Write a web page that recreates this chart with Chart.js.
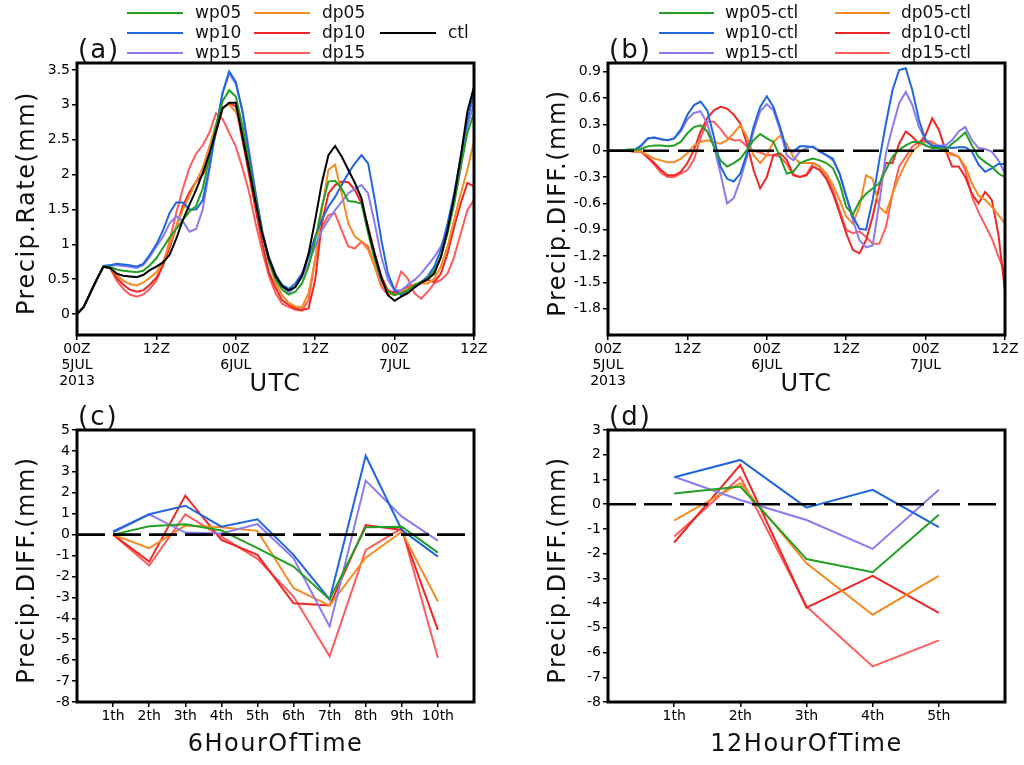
<!DOCTYPE html>
<html>
<head>
<meta charset="utf-8">
<title>Precip rate and differences</title>
<script src="https://cdn.jsdelivr.net/npm/chart.js@4.4.1/dist/chart.umd.min.js"></script>
<style>
  html, body { margin: 0; padding: 0; background: #fff; }
  body { width: 1024px; height: 765px; position: relative; overflow: hidden; }
  canvas { position: absolute; }
</style>
</head>
<body>
<canvas id="pa" width="512" height="400" style="left:0;top:0"></canvas>
<canvas id="pb" width="512" height="400" style="left:512px;top:0"></canvas>
<canvas id="pc" width="512" height="365" style="left:0;top:400px"></canvas>
<canvas id="pd" width="512" height="365" style="left:512px;top:400px"></canvas>
<script>
// hourly values, 00Z 5JUL 2013 .. 12Z 7JUL (61 hours)
const ctl  = [0.0,0.1,0.3,0.5,0.68,0.66,0.58,0.55,0.54,0.53, 0.56,0.63,0.68,0.74,0.85,1.08,1.35,1.57,1.78,2.02, 2.3,2.62,2.95,3.03,3.03,2.55,2.08,1.6,1.15,0.8, 0.55,0.4,0.34,0.39,0.54,0.87,1.35,1.88,2.28,2.41, 2.26,2.07,1.88,1.66,1.22,0.85,0.52,0.27,0.19,0.25, 0.3,0.38,0.45,0.5,0.58,0.82,1.2,1.68,2.26,2.9,3.26];
const wp05 = [0.0,0.1,0.3,0.5,0.68,0.68,0.64,0.62,0.61,0.6, 0.62,0.7,0.8,0.95,1.1,1.22,1.35,1.47,1.55,1.8, 2.25,2.7,3.05,3.21,3.12,2.7,2.18,1.65,1.15,0.75, 0.5,0.35,0.28,0.32,0.44,0.68,1.06,1.54,1.9,1.91, 1.8,1.62,1.61,1.58,1.16,0.78,0.49,0.32,0.27,0.3, 0.34,0.42,0.46,0.51,0.63,0.82,1.16,1.59,2.11,2.6,2.88];
const wp10 = [0.0,0.1,0.3,0.5,0.69,0.7,0.72,0.71,0.7,0.68, 0.72,0.85,1.0,1.2,1.45,1.6,1.6,1.5,1.5,1.63, 2.1,2.65,3.17,3.48,3.33,2.9,2.3,1.72,1.18,0.8, 0.56,0.42,0.36,0.44,0.58,0.82,1.11,1.35,1.54,1.68, 1.85,2.02,2.16,2.28,2.16,1.64,1.06,0.58,0.34,0.27, 0.32,0.39,0.46,0.54,0.68,0.92,1.3,1.73,2.26,2.78,3.17];
const wp15 = [0.0,0.1,0.3,0.5,0.69,0.7,0.7,0.69,0.68,0.66, 0.7,0.82,0.97,1.11,1.3,1.4,1.33,1.18,1.22,1.5, 2.07,2.64,3.17,3.45,3.3,2.93,2.35,1.73,1.2,0.82, 0.58,0.4,0.3,0.39,0.54,0.73,0.97,1.2,1.35,1.49, 1.61,1.73,1.8,1.85,1.73,1.3,0.82,0.49,0.34,0.34, 0.42,0.49,0.58,0.7,0.82,0.97,1.2,1.59,2.11,2.69,3.02];
const dp05 = [0.0,0.1,0.3,0.5,0.68,0.66,0.56,0.48,0.43,0.41, 0.45,0.52,0.6,0.75,1.0,1.25,1.5,1.7,1.9,2.1, 2.4,2.72,2.97,3.0,2.9,2.6,2.15,1.65,1.15,0.75, 0.45,0.27,0.16,0.11,0.1,0.3,0.78,1.49,2.07,2.14, 1.73,1.3,1.11,1.04,0.92,0.68,0.44,0.3,0.27,0.32, 0.37,0.42,0.44,0.44,0.51,0.68,0.97,1.35,1.73,2.07,2.48];
const dp10 = [0.0,0.1,0.3,0.5,0.68,0.66,0.52,0.42,0.35,0.32, 0.34,0.42,0.52,0.7,0.95,1.25,1.55,1.75,1.9,2.0, 2.2,2.6,2.95,3.02,2.98,2.5,2.0,1.5,1.02,0.6, 0.38,0.2,0.13,0.08,0.06,0.08,0.49,1.3,1.73,1.85, 1.9,1.89,1.78,1.59,1.25,0.87,0.54,0.34,0.3,0.34, 0.39,0.42,0.44,0.49,0.46,0.58,0.87,1.25,1.59,1.88,1.83];
const dp15 = [0.0,0.1,0.3,0.5,0.68,0.66,0.48,0.36,0.28,0.25, 0.28,0.36,0.48,0.7,1.05,1.45,1.8,2.1,2.3,2.42, 2.6,2.88,2.8,2.6,2.4,2.1,1.75,1.3,0.9,0.55, 0.3,0.15,0.1,0.06,0.05,0.2,0.78,1.25,1.42,1.44, 1.2,0.97,0.94,1.04,0.97,0.68,0.39,0.27,0.34,0.61, 0.51,0.3,0.22,0.32,0.44,0.49,0.58,0.82,1.16,1.49,1.64];

// hourly differences from ctl
const wp05Diff = [0,0,0,0.01,0.01, 0.02,0.05,0.06,0.06,0.05,0.06,0.1,0.2,0.27,0.29,0.22,0.05,-0.11,-0.18,-0.14,-0.09,0.01,0.12,0.19,0.14,0.1,-0.07,-0.26,-0.24,-0.14,-0.11, -0.09,-0.11,-0.14,-0.2,-0.37,-0.64,-0.73,-0.58,-0.49,-0.43,-0.37,-0.22,-0.07,0.01,0.06,0.1,0.1,0.06,0.03,0.03,0.01,0.08,0.14,0.21,0.06,-0.07,-0.13,-0.18,-0.26,-0.3];
const wp10Diff = [0,0,0,0.01,0.01, 0.06,0.14,0.15,0.13,0.12,0.14,0.24,0.41,0.52,0.56,0.46,0.16,-0.18,-0.32,-0.35,-0.26,-0.03,0.27,0.5,0.62,0.5,0.27,0.01,-0.01,0.05,0.05, 0.04,-0.01,-0.05,-0.09,-0.26,-0.52,-0.75,-0.89,-0.9,-0.56,-0.11,0.31,0.69,0.92,0.94,0.69,0.35,0.12,0.05,0.05,0.04,0.03,0.04,0.04,-0.01,-0.16,-0.24,-0.2,-0.15,-0.15];
const wp15Diff = [0,0,0,0.01,0.01, 0.05,0.14,0.15,0.13,0.12,0.14,0.22,0.36,0.43,0.45,0.31,0.05,-0.26,-0.6,-0.54,-0.33,-0.07,0.22,0.45,0.53,0.46,0.24,-0.05,-0.11,-0.01,0.03, 0.05,0.0,-0.05,-0.11,-0.26,-0.52,-0.79,-1.02,-1.1,-1.08,-0.6,-0.03,0.27,0.54,0.67,0.52,0.27,0.12,0.06,0.06,0.06,0.12,0.22,0.27,0.12,0.03,0.02,-0.01,-0.11,-0.26];
const dp05Diff = [0,0,0,0,-0.01, -0.01,-0.05,-0.09,-0.11,-0.13,-0.13,-0.09,-0.03,0.06,0.1,0.12,0.1,0.08,0.12,0.2,0.29,0.16,-0.05,-0.14,-0.05,0.1,0.17,0.08,-0.07,-0.14,-0.14, -0.14,-0.18,-0.26,-0.39,-0.56,-0.75,-0.83,-0.64,-0.28,-0.32,-0.64,-0.71,-0.49,-0.3,-0.14,-0.01,0.06,0.1,0.08,0.05,-0.01,-0.05,-0.07,-0.18,-0.37,-0.51,-0.56,-0.64,-0.73,-0.83];
const dp10Diff = [0,0,0,0,-0.01, -0.01,-0.07,-0.14,-0.22,-0.28,-0.28,-0.24,-0.14,0.01,0.22,0.37,0.46,0.5,0.48,0.41,0.31,0.08,-0.22,-0.43,-0.3,-0.05,-0.03,-0.1,-0.27,-0.3,-0.28, -0.18,-0.22,-0.32,-0.49,-0.71,-0.94,-1.13,-1.17,-1.02,-0.75,-0.41,-0.14,-0.14,0.08,0.22,0.16,0.08,0.18,0.37,0.24,0.01,-0.18,-0.18,-0.3,-0.49,-0.6,-0.47,-0.56,-0.95,-1.6];
const dp15Diff = [0,0,0,0,-0.01, -0.01,-0.08,-0.16,-0.25,-0.3,-0.3,-0.26,-0.22,-0.1,0.15,0.33,0.33,0.25,0.15,0.12,0.12,0.05,0.0,-0.02,-0.05,-0.05,-0.07,-0.15,-0.28,-0.3,-0.27, -0.14,-0.18,-0.28,-0.45,-0.68,-0.9,-0.94,-0.92,-0.98,-1.06,-1.06,-0.87,-0.49,-0.18,-0.07,0.05,0.1,0.12,0.1,0.05,-0.01,-0.03,-0.07,-0.22,-0.52,-0.7,-0.85,-1.0,-1.2,-1.4];

// 6-hour totals, difference from ctl
const sixHourLabels = ['1th','2th','3th','4th','5th','6th','7th','8th','9th','10th'];
const wp05Six = [0, 0.4, 0.5, 0.2, -0.65, -1.53, -3.1, 0.35, 0.38, -0.86];
const wp10Six = [0.15, 0.97, 1.38, 0.38, 0.73, -0.97, -3.1, 3.77, 0.22, -1.05];
const wp15Six = [0.1, 0.97, 0.1, 0.05, 0.5, -1.13, -4.39, 2.58, 0.86, -0.29];
const dp05Six = [0, -0.65, 0.43, 0.35, 0.18, -2.56, -3.39, -1.1, 0.14, -3.2];
const dp10Six = [0, -1.29, 1.86, -0.25, -0.97, -3.28, -3.39, 0.46, 0.22, -4.55];
const dp15Six = [0, -1.48, 0.97, -0.1, -1.16, -2.96, -5.82, -0.73, 0.3, -5.9];

// 12-hour totals, difference from ctl
const twelveHourLabels = ['1th','2th','3th','4th','5th'];
const wp05Twelve = [0.43, 0.71, -2.22, -2.75, -0.43];
const wp10Twelve = [1.09, 1.79, -0.14, 0.58, -0.93];
const wp15Twelve = [1.11, 0.17, -0.64, -1.81, 0.58];
const dp05Twelve = [-0.65, 0.85, -2.39, -4.47, -2.9];
const dp10Twelve = [-1.55, 1.59, -4.18, -2.9, -4.4];
const dp15Twelve = [-1.31, 1.09, -4.14, -6.56, -5.51];

// axis ticks
const timeTicks = [0, 12, 24, 36, 48, 60];
const timeTickLabels = [['00Z', '5JUL', '2013'], '12Z', ['00Z', '6JUL'], '12Z', ['00Z', '7JUL'], '12Z'];
const rateTicks = [0, 0.5, 1, 1.5, 2, 2.5, 3, 3.5];
const hourDiffTicks = [-1.8, -1.5, -1.2, -0.9, -0.6, -0.3, 0, 0.3, 0.6, 0.9];
const sixDiffTicks = [-8, -7, -6, -5, -4, -3, -2, -1, 0, 1, 2, 3, 4, 5];
const twelveDiffTicks = [-8, -7, -6, -5, -4, -3, -2, -1, 0, 1, 2, 3];

const colors = {
  wp05: '#23a023', wp10: '#1f66df', wp15: '#8a7cf0',
  dp05: '#f58b22', dp10: '#ee2626', dp15: '#ff5c5c', ctl: '#000000'
};
// lower = drawn on top
const drawRank = { ctl: 0, wp05: 1, wp10: 2, wp15: 3, dp05: 4, dp10: 5, dp15: 6 };

const tickFont = { family: 'DejaVu Sans', size: 14, lineHeight: 1.12 };
const FONT = '"DejaVu Sans", sans-serif';

function points(values, x0) {
  return values.map((v, i) => ({ x: x0 + i, y: v }));
}

function spacedText(ctx, txt, x, y, spacing) {
  ctx.letterSpacing = spacing + 'px';
  ctx.fillText(txt, x, y);
  ctx.letterSpacing = '0px';
}

// frame, dashed zero line, panel letter, axis titles, legend
const decor = {
  id: 'decor',
  afterDatasetsDraw(chart, args, o) {
    if (!o.zeroLine) return;
    const { ctx, chartArea: a } = chart;
    const y = chart.scales.y.getPixelForValue(0);
    ctx.save();
    ctx.beginPath();
    ctx.rect(a.left, a.top, a.width, a.height);
    ctx.clip();
    ctx.setLineDash(o.dash);
    ctx.lineWidth = 2.6;
    ctx.strokeStyle = '#000';
    ctx.beginPath();
    ctx.moveTo(a.left, y);
    ctx.lineTo(a.right, y);
    ctx.stroke();
    ctx.restore();
  },
  afterDraw(chart, args, o) {
    const { ctx, chartArea: a } = chart;
    ctx.save();
    ctx.lineWidth = 3;
    ctx.strokeStyle = '#000';
    ctx.strokeRect(a.left, a.top, a.width, a.height);

    ctx.fillStyle = '#111';
    ctx.textBaseline = 'middle';
    ctx.font = '26px ' + FONT;
    ctx.textAlign = 'left';
    spacedText(ctx, o.label, o.labelX, o.labelY, 2);

    ctx.font = '24px ' + FONT;
    ctx.textAlign = 'center';
    spacedText(ctx, o.xTitle, (a.left + a.right) / 2, o.xTitleY, 1.5);

    ctx.save();
    ctx.translate(o.yTitleX, (a.top + a.bottom) / 2 + 4);
    ctx.rotate(-Math.PI / 2);
    spacedText(ctx, o.yTitle, 0, 0, 1.5);
    ctx.restore();

    if (o.legend) {
      const L = o.legend;
      ctx.font = '17px ' + FONT;
      ctx.textAlign = 'left';
      ctx.lineWidth = 2.2;
      chart.data.datasets.forEach((ds, i) => {
        const [c, r] = L.slots[i];
        const x = L.cols[c], y = L.rows[r];
        ctx.strokeStyle = ds.borderColor;
        ctx.beginPath();
        ctx.moveTo(x, y);
        ctx.lineTo(x + L.lineLen, y);
        ctx.stroke();
        ctx.fillStyle = '#111';
        ctx.fillText(ds.label, x + L.lineLen + L.gap, y + 1);
      });
    }
    ctx.restore();
  }
};

function panel(id, o) {
  const axisGrid = { display: true, drawOnChartArea: false, drawTicks: true, tickLength: 5, color: '#000', lineWidth: 1.5 };
  return new Chart(document.getElementById(id), {
    type: 'line',
    data: {
      datasets: o.sets.map(s => ({
        label: s.label,
        data: points(s.data, o.x0),
        borderColor: colors[s.key],
        borderWidth: 2,
        pointRadius: 0,
        tension: 0,
        fill: false,
        order: drawRank[s.key]
      }))
    },
    options: {
      responsive: false,
      animation: false,
      devicePixelRatio: 1,
      events: [],
      layout: { padding: o.pad },
      plugins: { legend: { display: false }, tooltip: { enabled: false }, decor: o.decor },
      scales: {
        x: {
          type: 'linear', min: o.xMin, max: o.xMax,
          afterFit: s => { s.height = o.xH; },
          afterBuildTicks: s => { s.ticks = o.xTicks.map(v => ({ value: v })); },
          ticks: { callback: (v, i) => o.xLabels[i], font: tickFont, color: '#000', padding: 2, maxRotation: 0, autoSkip: false },
          grid: axisGrid,
          border: { display: false }
        },
        y: {
          type: 'linear', min: o.yMin, max: o.yMax,
          afterFit: s => { s.width = o.yW; },
          afterBuildTicks: s => { s.ticks = o.yTicks.map(v => ({ value: v })); },
          ticks: { callback: v => String(v), font: tickFont, color: '#000', padding: 2, autoSkip: false },
          grid: axisGrid,
          border: { display: false }
        }
      }
    },
    plugins: [decor]
  });
}

panel('pa', {
  x0: 0, xMin: 0, xMax: 60, xTicks: timeTicks, xLabels: timeTickLabels, xH: 65,
  yMin: -0.3, yMax: 3.6, yTicks: rateTicks, yW: 77,
  pad: { top: 63, right: 38, left: 0, bottom: 0 },
  sets: [
    { key: 'wp05', label: 'wp05', data: wp05 },
    { key: 'wp10', label: 'wp10', data: wp10 },
    { key: 'wp15', label: 'wp15', data: wp15 },
    { key: 'dp05', label: 'dp05', data: dp05 },
    { key: 'dp10', label: 'dp10', data: dp10 },
    { key: 'dp15', label: 'dp15', data: dp15 },
    { key: 'ctl', label: 'ctl', data: ctl }
  ],
  decor: {
    label: '(a)', labelX: 78, labelY: 51,
    xTitle: 'UTC', xTitleY: 385,
    yTitle: 'Precip.Rate(mm)', yTitleX: 28,
    zeroLine: false,
    legend: { cols: [127, 254, 380], rows: [13, 33, 53], lineLen: 56, gap: 12,
      slots: [[0, 0], [0, 1], [0, 2], [1, 0], [1, 1], [1, 2], [2, 1]] }
  }
});

panel('pb', {
  x0: 0, xMin: 0, xMax: 60, xTicks: timeTicks, xLabels: timeTickLabels, xH: 65,
  yMin: -2.1, yMax: 1.0, yTicks: hourDiffTicks, yW: 96,
  pad: { top: 63, right: 19, left: 0, bottom: 0 },
  sets: [
    { key: 'wp05', label: 'wp05-ctl', data: wp05Diff },
    { key: 'wp10', label: 'wp10-ctl', data: wp10Diff },
    { key: 'wp15', label: 'wp15-ctl', data: wp15Diff },
    { key: 'dp05', label: 'dp05-ctl', data: dp05Diff },
    { key: 'dp10', label: 'dp10-ctl', data: dp10Diff },
    { key: 'dp15', label: 'dp15-ctl', data: dp15Diff }
  ],
  decor: {
    label: '(b)', labelX: 97, labelY: 51,
    xTitle: 'UTC', xTitleY: 385,
    yTitle: 'Precip.DIFF.(mm)', yTitleX: 47,
    zeroLine: true, dash: [26, 9],
    legend: { cols: [147, 323], rows: [13, 33, 53], lineLen: 55, gap: 11,
      slots: [[0, 0], [0, 1], [0, 2], [1, 0], [1, 1], [1, 2]] }
  }
});

panel('pc', {
  x0: 1, xMin: 0, xMax: 11, xTicks: [1, 2, 3, 4, 5, 6, 7, 8, 9, 10], xLabels: sixHourLabels, xH: 63,
  yMin: -8, yMax: 5, yTicks: sixDiffTicks, yW: 77,
  pad: { top: 30, right: 38, left: 0, bottom: 0 },
  sets: [
    { key: 'wp05', label: 'wp05-ctl', data: wp05Six },
    { key: 'wp10', label: 'wp10-ctl', data: wp10Six },
    { key: 'wp15', label: 'wp15-ctl', data: wp15Six },
    { key: 'dp05', label: 'dp05-ctl', data: dp05Six },
    { key: 'dp10', label: 'dp10-ctl', data: dp10Six },
    { key: 'dp15', label: 'dp15-ctl', data: dp15Six }
  ],
  decor: {
    label: '(c)', labelX: 78, labelY: 18,
    xTitle: '6HourOfTime', xTitleY: 345,
    yTitle: 'Precip.DIFF.(mm)', yTitleX: 28,
    zeroLine: true, dash: [28, 8]
  }
});

panel('pd', {
  x0: 1, xMin: 0, xMax: 6, xTicks: [1, 2, 3, 4, 5], xLabels: twelveHourLabels, xH: 63,
  yMin: -8, yMax: 3, yTicks: twelveDiffTicks, yW: 96,
  pad: { top: 30, right: 19, left: 0, bottom: 0 },
  sets: [
    { key: 'wp05', label: 'wp05-ctl', data: wp05Twelve },
    { key: 'wp10', label: 'wp10-ctl', data: wp10Twelve },
    { key: 'wp15', label: 'wp15-ctl', data: wp15Twelve },
    { key: 'dp05', label: 'dp05-ctl', data: dp05Twelve },
    { key: 'dp10', label: 'dp10-ctl', data: dp10Twelve },
    { key: 'dp15', label: 'dp15-ctl', data: dp15Twelve }
  ],
  decor: {
    label: '(d)', labelX: 97, labelY: 18,
    xTitle: '12HourOfTime', xTitleY: 345,
    yTitle: 'Precip.DIFF.(mm)', yTitleX: 47,
    zeroLine: true, dash: [28, 8]
  }
});
</script>
</body>
</html>
